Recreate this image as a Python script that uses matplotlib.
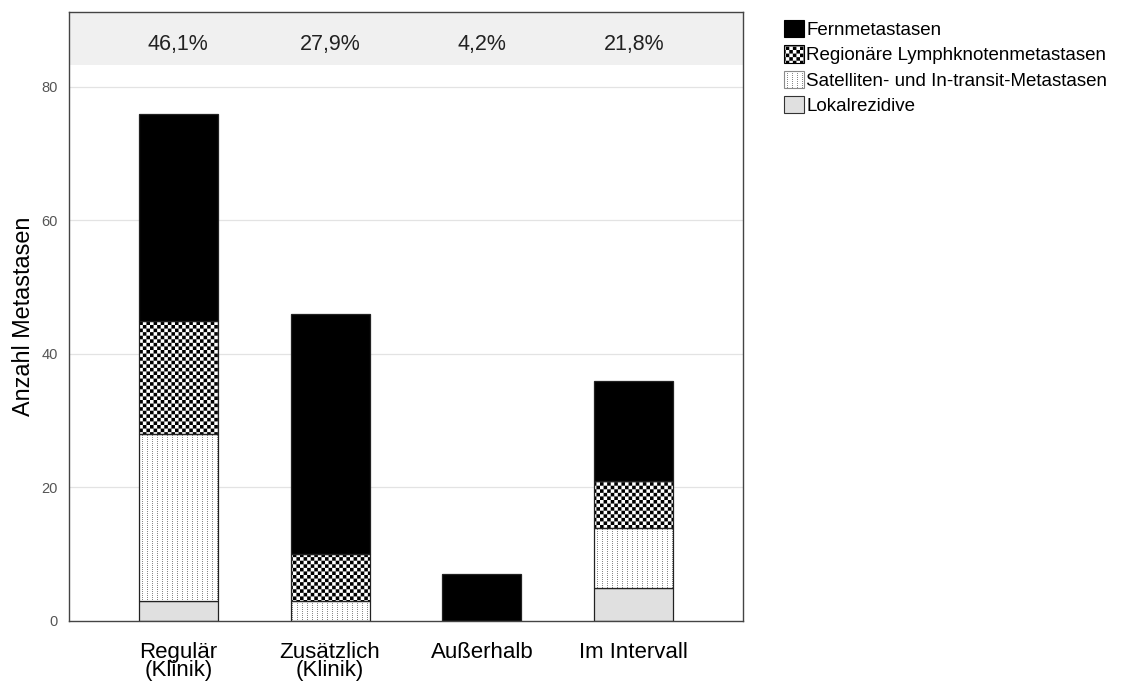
import numpy as np
import matplotlib
matplotlib.use("Agg")
import matplotlib.pyplot as plt
from matplotlib import hatch as mhatch
from matplotlib.path import Path
from matplotlib.patches import Patch

# ---------------- data ----------------
categories = ["Regulär\n(Klinik)", "Zusätzlich\n(Klinik)", "Außerhalb", "Im Intervall"]
lokalrezidive = [3, 0, 0, 5]
satelliten = [25, 3, 0, 9]
lymphknoten = [17, 7, 0, 7]
fernmetastasen = [31, 36, 7, 15]
percent_labels = ["46,1%", "27,9%", "4,2%", "21,8%"]
series_names = ["Fernmetastasen", "Regionäre Lymphknotenmetastasen",
                "Satelliten- und In-transit-Metastasen", "Lokalrezidive"]
yticks = [0, 20, 40, 60, 80]


# ---------------- custom hatch patterns ----------------
class CheckerHatch(mhatch.HatchPatternBase):
    """Checkerboard pattern, triggered by 'O'."""
    def __init__(self, hatch, density):
        self.n = 28 if "O" in hatch else 0
        self.num_vertices = (self.n * self.n // 2) * 5 if self.n else 0

    def set_vertices_and_codes(self, vertices, codes):
        s = 1.0 / self.n
        k = 0
        for i in range(self.n):
            for j in range(self.n):
                if (i + j) % 2 == 0:
                    x0, y0 = i * s, j * s
                    vertices[k:k + 5] = [(x0, y0), (x0 + s, y0), (x0 + s, y0 + s),
                                         (x0, y0 + s), (x0, y0)]
                    codes[k] = Path.MOVETO
                    codes[k + 1:k + 4] = Path.LINETO
                    codes[k + 4] = Path.CLOSEPOLY
                    k += 5


class DotColumnHatch(mhatch.HatchPatternBase):
    """Columns of small dots, triggered by 'o'."""
    def __init__(self, hatch, density):
        self.on = "o" in hatch
        self.nc, self.nr = 20, 50
        self.num_vertices = self.nc * self.nr * 5 if self.on else 0

    def set_vertices_and_codes(self, vertices, codes):
        d = 0.01
        k = 0
        for i in range(self.nc):
            for j in range(self.nr):
                x0, y0 = i / self.nc + 0.02, j / self.nr
                vertices[k:k + 5] = [(x0, y0), (x0 + d, y0), (x0 + d, y0 + d),
                                     (x0, y0 + d), (x0, y0)]
                codes[k] = Path.MOVETO
                codes[k + 1:k + 4] = Path.LINETO
                codes[k + 4] = Path.CLOSEPOLY
                k += 5


mhatch._hatch_types = [t for t in mhatch._hatch_types
                       if t not in (mhatch.LargeCircles, mhatch.SmallCircles)]
mhatch._hatch_types += [CheckerHatch, DotColumnHatch]

plt.rcParams["hatch.linewidth"] = 0.0
plt.rcParams["font.family"] = ["Liberation Sans", "DejaVu Sans"]

# ---------------- figure ----------------
fig = plt.figure(figsize=(11.25, 6.86), dpi=100)
ax = fig.add_axes([69 / 1125, 1 - 621 / 686, (743 - 69) / 1125, (621 - 12) / 686])

x = np.arange(len(categories))
w = 0.52
ymax = 91.2
band_lo = 83.3

ax.set_xlim(-0.72, 3.72)
ax.set_ylim(0, ymax)
ax.axhspan(band_lo, ymax, color="#f0f0f0", zorder=0, lw=0)
for t in yticks[1:]:
    ax.axhline(t, color="#e3e3e3", lw=0.9, zorder=0.5)

edge = "#222222"
bottom = np.zeros(len(categories))

# Lokalrezidive
ax.bar(x, lokalrezidive, w, bottom=bottom, color="#e0e0e0", edgecolor=edge, lw=0.9, zorder=2)
bottom += np.array(lokalrezidive)
# Satelliten (gray dots + dark outline)
ax.bar(x, satelliten, w, bottom=bottom, color="white", edgecolor="#8a8a8a", lw=0, hatch="o", zorder=2)
ax.bar(x, satelliten, w, bottom=bottom, color="none", edgecolor=edge, lw=0.9, zorder=2.1)
bottom += np.array(satelliten)
# Lymphknoten (checkerboard)
ax.bar(x, lymphknoten, w, bottom=bottom, color="white", edgecolor="black", lw=0, hatch="O", zorder=2)
ax.bar(x, lymphknoten, w, bottom=bottom, color="none", edgecolor=edge, lw=0.9, zorder=2.1)
bottom += np.array(lymphknoten)
# Fernmetastasen
ax.bar(x, fernmetastasen, w, bottom=bottom, color="black", edgecolor=edge, lw=0.9, zorder=2)

for xi, lab in zip(x, percent_labels):
    ax.text(xi, 86.7, lab, ha="center", va="center_baseline",
            fontsize=15.5, color="#222222", zorder=3)

ax.set_yticks(yticks)
ax.set_yticklabels([str(t) for t in yticks], fontsize=10.5, color="#555555")
ax.set_xticks(x)
ax.set_xticklabels(categories, fontsize=16, color="black", linespacing=0.85)
ax.tick_params(axis="both", length=0)
ax.tick_params(axis="y", pad=8)
ax.tick_params(axis="x", pad=15)
ax.set_ylabel("Anzahl Metastasen", fontsize=16.8, color="black", labelpad=5)
for sp in ax.spines.values():
    sp.set_color("#444444")
    sp.set_linewidth(1.0)

# ---------------- legend ----------------
handles = [
    Patch(facecolor="black", edgecolor="black", lw=0.8),
    Patch(facecolor="white", edgecolor="black", hatch="O", lw=0.8),
    Patch(facecolor="white", edgecolor="#8a8a8a", hatch="o", lw=0.8),
    Patch(facecolor="#e0e0e0", edgecolor="#333333", lw=0.8),
]
fig.legend(handles, series_names, loc="upper left", bbox_to_anchor=(784 / 1125, 1 - 20 / 686),
           frameon=False, fontsize=13.5, handlelength=1.05, handleheight=1.05,
           handletextpad=0.15, labelspacing=0.33, borderaxespad=0, borderpad=0)

fig.savefig("out.png", dpi=100)
